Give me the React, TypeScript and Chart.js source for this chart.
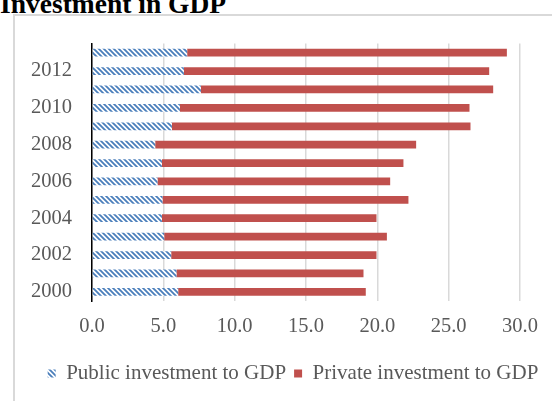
import { useEffect, useRef } from 'react';
import { Chart, registerables } from 'chart.js';

Chart.register(...registerables);

const years = ['2000', '2001', '2002', '2003', '2004', '2005', '2006', '2007', '2008', '2009', '2010', '2011', '2012', '2013'];
const publicInvestment = [6.04, 5.92, 5.55, 5.06, 4.9, 4.94, 4.59, 4.9, 4.43, 5.6, 6.16, 7.63, 6.44, 6.67];
const privateInvestment = [13.15, 13.11, 14.39, 15.61, 15.04, 17.24, 16.31, 16.93, 18.29, 20.93, 20.3, 20.49, 21.4, 22.41];
const seriesNames = ['Public investment to GDP', 'Private investment to GDP'];
const titleText = 'Investment in GDP';

function makeHatch(): CanvasPattern | string {
  const s = 5;
  const c = document.createElement('canvas');
  c.width = s;
  c.height = s;
  const ctx = c.getContext('2d');
  if (!ctx) return '#4a7ebb';
  ctx.fillStyle = '#ffffff';
  ctx.fillRect(0, 0, s, s);
  ctx.strokeStyle = '#4a7ebb';
  ctx.lineWidth = 1.8;
  ctx.beginPath();
  ctx.moveTo(-1, -1);
  ctx.lineTo(s + 1, s + 1);
  ctx.moveTo(-1, s - 1);
  ctx.lineTo(1, s + 1);
  ctx.moveTo(s - 1, -1);
  ctx.lineTo(s + 1, 1);
  ctx.stroke();
  return ctx.createPattern(c, 'repeat') || '#4a7ebb';
}

const shiftLegend = {
  id: 'shiftLegend',
  afterLayout(chart: any) {
    const lg = chart.legend;
    if (lg) {
      lg.left += 29;
      lg.right += 29;
    }
  },
};

export default function App() {
  const canvasRef = useRef<HTMLCanvasElement | null>(null);

  useEffect(() => {
    if (!canvasRef.current) return;
    const hatch = makeHatch();
    const family = "'Liberation Serif', 'Times New Roman', serif";
    const tickFont = { family, size: 20.5 };
    const legendFont = { family, size: 21 };
    const chart = new Chart(canvasRef.current, {
      type: 'bar',
      data: {
        labels: years,
        datasets: [
          {
            label: seriesNames[0],
            data: publicInvestment,
            backgroundColor: hatch as any,
            borderWidth: 0,
            categoryPercentage: 1,
            barPercentage: 0.42,
          },
          {
            label: seriesNames[1],
            data: privateInvestment,
            backgroundColor: '#c0504d',
            borderWidth: 0,
            categoryPercentage: 1,
            barPercentage: 0.42,
          },
        ],
      },
      plugins: [shiftLegend],
      options: {
        indexAxis: 'y',
        animation: false,
        responsive: false,
        maintainAspectRatio: false,
        layout: { padding: { top: 43.5, left: 8, right: 32, bottom: 7 } },
        scales: {
          x: {
            stacked: true,
            min: 0,
            max: 30,
            ticks: {
              stepSize: 5,
              color: '#595959',
              font: tickFont,
              padding: 13,
              callback: (v: any) => Number(v).toFixed(1),
            },
            grid: { color: '#d9d9d9', lineWidth: 1.5, drawTicks: false },
            border: { display: false },
            afterFit: (scale: any) => {
              scale.height = 54;
            },
          },
          y: {
            stacked: true,
            reverse: true,
            ticks: {
              color: '#595959',
              font: tickFont,
              padding: 20,
              autoSkip: false,
              callback: function (this: any, _v: any, i: number) {
                return i % 2 === 0 ? years[i] : '';
              },
            },
            grid: { display: false, drawTicks: false },
            border: { display: true, color: '#000000', width: 1.5 },
            afterFit: (scale: any) => {
              scale.width = 84;
            },
          },
        },
        plugins: {
          legend: {
            position: 'bottom',
            labels: {
              color: '#595959',
              font: legendFont,
              boxWidth: 8,
              boxHeight: 8,
              padding: 8,
            },
          },
          tooltip: { enabled: false },
        },
      },
    });
    return () => chart.destroy();
  }, []);

  return (
    <div style={{ position: 'fixed', left: 0, top: 0, width: 552, height: 401, overflow: 'hidden', background: '#ffffff' }}>
      <div
        style={{
          position: 'absolute',
          left: 13,
          top: 14,
          width: 560,
          height: 420,
          border: '2px solid #d9d9d9',
          boxSizing: 'border-box',
        }}
      />
      <div
        style={{
          position: 'absolute',
          left: 0,
          top: -12,
          fontFamily: "'Liberation Serif', 'Times New Roman', serif",
          fontWeight: 'bold',
          fontSize: 27.5,
          lineHeight: '32px',
          color: '#000000',
          whiteSpace: 'nowrap',
        }}
      >
        {titleText}
      </div>
      <canvas ref={canvasRef} width={552} height={401} style={{ position: 'absolute', left: 0, top: 0 }} />
    </div>
  );
}
